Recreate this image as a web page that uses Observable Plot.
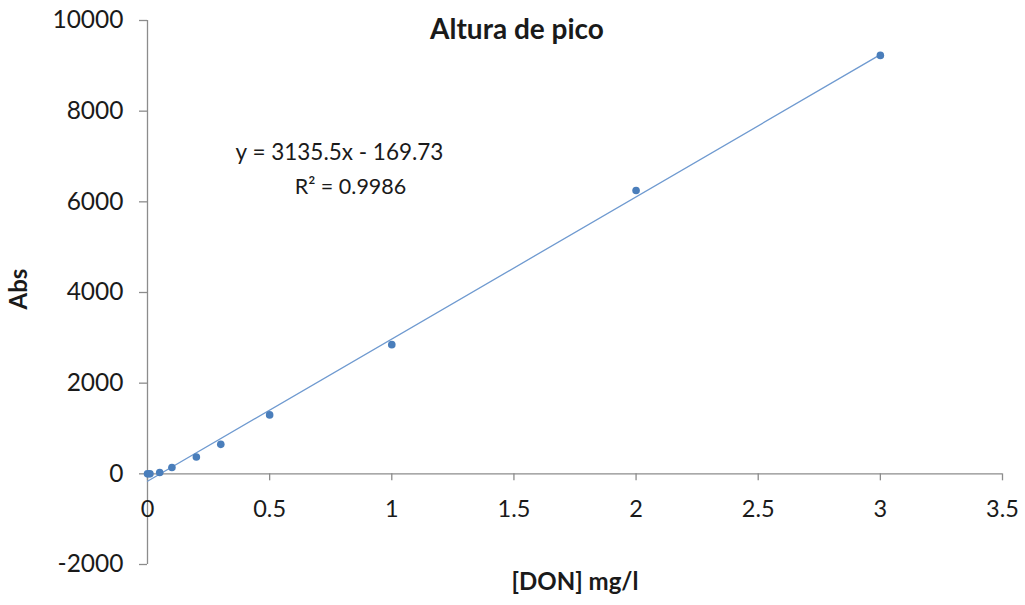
<!DOCTYPE html>
<html>
<head>
<meta charset="utf-8">
<script src="https://cdn.jsdelivr.net/npm/d3@7"></script>
<script src="https://cdn.jsdelivr.net/npm/@observablehq/plot@0.6"></script>
<style>
  html, body { margin: 0; padding: 0; background: #ffffff; overflow: hidden; }
  #chart { width: 1025px; height: 605px; overflow: hidden; }
  #chart svg { display: block; max-width: none; }
</style>
</head>
<body>
<div id="chart"></div>
<script>
// Data
const concentration = [0, 0.01, 0.05, 0.1, 0.2, 0.3, 0.5, 1, 2, 3];
const absValues = [0, 0, 30, 140, 370, 650, 1300, 2850, 6250, 9230];
const xTicks = [0, 0.5, 1, 1.5, 2, 2.5, 3, 3.5];
const yTicks = [-2000, 0, 2000, 4000, 6000, 8000, 10000];
const titleText = "Altura de pico";
const xLabel = "[DON] mg/l";
const yLabel = "Abs";
const equationText = "y = 3135.5x - 169.73";
const r2Text = "R² = 0.9986";

const data = concentration.map((x, i) => ({x, y: absValues[i]}));

const axisColor = "#8c8c8c";
const textColor = "#1a1a1a";
const blue = "#4a7ebb";
const font = "Lato, 'Open Sans', sans-serif";

const chart = Plot.plot({
  width: 1025,
  height: 605,
  marginLeft: 147,
  marginRight: 23,
  marginTop: 20,
  marginBottom: 41,
  style: {fontFamily: font, background: "#ffffff", color: textColor},
  x: {domain: [0, 3.5], axis: null},
  y: {domain: [-2000, 10000], axis: null},
  marks: [
    Plot.ruleX([0], {stroke: axisColor, strokeWidth: 1.3}),
    Plot.ruleY([0], {stroke: axisColor, strokeWidth: 1.3}),
    Plot.axisY({ticks: yTicks, tickSize: 8, tickPadding: 16, stroke: axisColor, strokeWidth: 1.3,
      fontSize: 24.5, tickFormat: d => String(d), label: null, fill: textColor}),
    Plot.ruleX(xTicks, {x: d => d, y1: 0, y2: 0, insetBottom: -7, stroke: axisColor, strokeWidth: 1.3}),
    Plot.text(xTicks, {x: d => d, y: 0, dy: 36, text: d => String(d), fontSize: 23.5, fill: textColor}),
    Plot.linearRegressionY(data, {x: "x", y: "y", stroke: "#6f9ad0", strokeWidth: 1.3, ci: 0}),
    Plot.dot(data, {x: "x", y: "y", r: 3.8, fill: blue, stroke: null}),
    Plot.text([equationText], {frameAnchor: "top-left", dx: 192, dy: 124, fontSize: 22.5, fill: textColor, textAnchor: "middle"}),
    Plot.text([r2Text], {frameAnchor: "top-left", dx: 203, dy: 158, fontSize: 21.5, fill: textColor, textAnchor: "middle"}),
    Plot.text([titleText], {frameAnchor: "top-left", dx: 369.5, dy: -1, fontSize: 28, fontWeight: "bold", fill: textColor, textAnchor: "middle"}),
    Plot.text([xLabel], {frameAnchor: "bottom", dy: 25, fontSize: 24, fontWeight: "bold", fill: textColor}),
    Plot.text([yLabel], {frameAnchor: "left", dx: -128, dy: 17, rotate: -90, fontSize: 24, fontWeight: "bold", fill: textColor})
  ]
});
document.getElementById("chart").appendChild(chart);
</script>
</body>
</html>
